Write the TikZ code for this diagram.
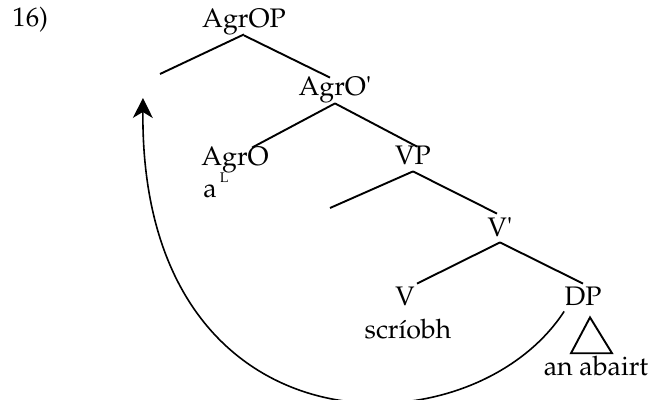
\documentclass[tikz,border=0pt]{standalone}
\usepackage[T1]{fontenc}
\usepackage{mathpazo}
\usetikzlibrary{calc,arrows.meta}

\begin{document}
\begin{tikzpicture}[x=0.5pt, y=-0.5pt, >={Stealth[length=10pt,width=10pt,inset=3pt]},
  font=\fontsize{13.4}{16}\selectfont,
  cat/.style={anchor=base, inner xsep=0pt, inner ysep=1pt, text height=0.8em, text depth=0.2em},
  word/.style={anchor=base, inner sep=0pt},
  branch/.style={line width=0.95pt}]
  \useasboundingbox (0,0) rectangle (651,400);

  % Example number
  \node[word, anchor=base west] (num) at (12,27) {16)};

  % Top of the tree: AgrOP and AgrO'
  \node[cat] (agrop) at (244,28) {AgrOP};
  \coordinate (spec1) at (160,74);
  \node[cat] (agrobar) at (335,96) {AgrO\textquotesingle};
  \draw[branch] (agrop.south) -- (spec1);
  \draw[branch] ($(agrop.south)+(0,1)$) -- ($(agrobar.north)+(-5,0)$);

  % AgrO head and VP
  \node[cat] (agro) at (235,166) {AgrO};
  \node[word, anchor=base west] (al) at (203,198) {a\kern1.5pt\raisebox{7.5pt}{\fontsize{7}{7}\selectfont L}};
  \node[cat] (vp) at (413,165) {VP};
  \draw[branch] ($(agrobar.south)+(0,1)$) -- ($(agro.north)+(17,0)$);
  \draw[branch] ($(agrobar.south)+(0,1)$) -- ($(vp.north)+(4,0)$);

  % VP spec and V'
  \coordinate (spec2) at (330,208);
  \node[cat] (vbar) at (500,236) {V\textquotesingle};
  \draw[branch] (vp.south) -- (spec2);
  \draw[branch] (vp.south) -- ($(vbar.north)+(-3,-4)$);

  % V and the object DP
  \node[cat] (v) at (405,305) {V};
  \node[word] (verb) at (408,338) {scr\'{\i}obh};
  \node[cat] (dp) at (583,305) {DP};
  \node[word] (abairt) at (596,375) {an abairt};
  \draw[branch] (vbar.south) -- ($(v.north)+(12,-3)$);
  \draw[branch] (vbar.south) -- ($(dp.north)+(0,-3)$);
  \draw[branch] ($(dp.south)+(7,6)$) -- ($(abairt.north)+(-25,-2)$)
    -- ($(abairt.north)+(16,-2)$) -- cycle;

  % Movement of the object to spec AgrOP
  \coordinate (landing) at (143,98);
  \draw[->, line width=0.8pt] (dp.south west) .. controls (470,456) and (140,458) .. (landing);

\end{tikzpicture}
\end{document}
